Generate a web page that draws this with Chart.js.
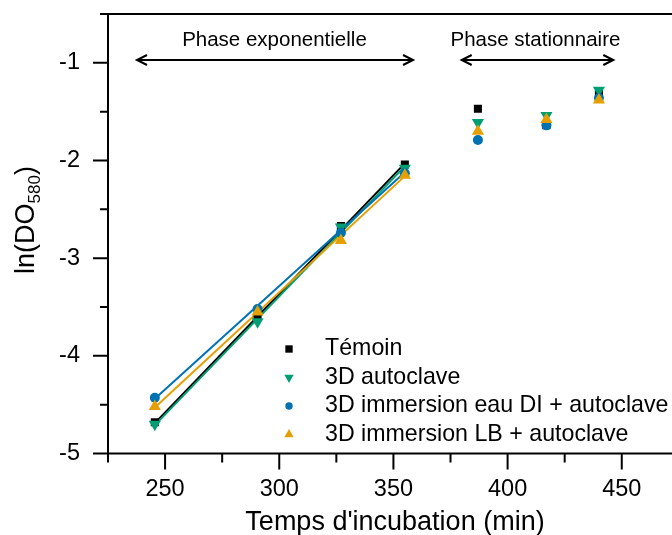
<!DOCTYPE html>
<html>
<head>
<meta charset="utf-8">
<script src="https://cdn.jsdelivr.net/npm/chart.js@4.4.1/dist/chart.umd.min.js"></script>
<style>
  html, body { margin: 0; padding: 0; background: #fff; }
  #wrap { width: 672px; height: 535px; }
</style>
</head>
<body>
<div id="wrap"><canvas id="grafico" width="672" height="535"></canvas></div>
<script>
// Temps d'incubation (min)
const temps = [245.5, 290.5, 327, 355, 387, 417, 440];

// ln(DO580) pour chaque condition
const temoin = [-4.68, -3.60, -2.67, -2.04, -1.47, -1.64, -1.32];
const autoclave = [-4.70, -3.65, -2.68, -2.08, -1.61, -1.54, -1.28];
const immersionEauDI = [-4.43, -3.52, -2.74, -2.13, -1.79, -1.64, -1.36];
const immersionLB = [-4.52, -3.55, -2.82, -2.15, -1.70, -1.58, -1.38];

// droites de régression sur la phase exponentielle (extrémités)
const tempsFit = [245.5, 355];
const fitTemoin = [-4.69, -2.03];
const fitAutoclave = [-4.71, -2.06];
const fitEauDI = [-4.44, -2.12];
const fitLB = [-4.53, -2.16];

const noms = ['Témoin', '3D autoclave', '3D immersion eau DI + autoclave', '3D immersion LB + autoclave'];
const couleurs = ['#000000', '#009E73', '#0072B2', '#E69F00'];

const police = "'Liberation Sans', Arial, sans-serif";

function pts(xs, ys) {
  return xs.map((x, i) => ({ x: x, y: ys[i] }));
}

// styles des marqueurs : carré, triangle bas, rond, triangle haut
const marqueurs = [
  { pointStyle: 'rect', radius: 5.7, rotation: 0 },
  { pointStyle: 'triangle', radius: 7, rotation: 180 },
  { pointStyle: 'circle', radius: 5, rotation: 0 },
  { pointStyle: 'triangle', radius: 7, rotation: 0 }
];
const marqueursLegende = [
  { pointStyle: 'rect', radius: 5.2, rotation: 0 },
  { pointStyle: 'triangle', radius: 5.4, rotation: 180 },
  { pointStyle: 'circle', radius: 3.7, rotation: 0 },
  { pointStyle: 'triangle', radius: 5.4, rotation: 0 }
];

const series = [temoin, autoclave, immersionEauDI, immersionLB];
const fits = [fitTemoin, fitAutoclave, fitEauDI, fitLB];

const datasets = [];
series.forEach((s, i) => {
  datasets.push({
    label: noms[i],
    data: pts(temps, s),
    showLine: false,
    pointStyle: marqueurs[i].pointStyle,
    pointRotation: marqueurs[i].rotation,
    pointRadius: marqueurs[i].radius,
    pointBackgroundColor: couleurs[i],
    pointBorderWidth: 0,
    order: 4 - i
  });
});
fits.forEach((f, i) => {
  datasets.push({
    label: 'fit ' + noms[i],
    data: pts(tempsFit, f),
    showLine: true,
    borderColor: couleurs[i],
    borderWidth: 2,
    pointRadius: 0,
    order: 8 - i
  });
});

// axes, graduations majeures et mineures
const axesPlugin = {
  id: 'axes',
  beforeDatasetsDraw(chart) {
    const { ctx, chartArea: a, scales } = chart;
    const x = scales.x, y = scales.y;
    ctx.save();
    ctx.strokeStyle = '#000';
    ctx.lineWidth = 2;
    ctx.beginPath();
    ctx.moveTo(a.left, a.top); ctx.lineTo(a.left, a.bottom);
    ctx.moveTo(a.left, a.bottom); ctx.lineTo(a.right, a.bottom);
    ctx.moveTo(a.left, a.top); ctx.lineTo(a.right, a.top);
    for (let v = 225; v <= x.max; v += 25) {
      const px = x.getPixelForValue(v);
      const len = v % 50 === 0 ? 16 : 9;
      ctx.moveTo(px, a.bottom); ctx.lineTo(px, a.bottom + len);
    }
    for (let v = -5; v <= -0.5; v += 0.5) {
      const py = y.getPixelForValue(v);
      const len = Number.isInteger(v) ? 15 : 8;
      ctx.moveTo(a.left, py); ctx.lineTo(a.left - len, py);
    }
    ctx.stroke();
    ctx.restore();
  }
};

// flèches, titres d'axes et légende
const textesPlugin = {
  id: 'textes',
  afterDraw(chart) {
    const { ctx, scales } = chart;
    const x = scales.x, y = scales.y;
    ctx.save();
    ctx.fillStyle = '#000';
    ctx.strokeStyle = '#000';

    // phases
    const phases = [
      { txt: 'Phase exponentielle', de: 237.7, a: 358.6, centre: 297.9 },
      { txt: 'Phase stationnaire', de: 379.9, a: 446.3, centre: 412.2 }
    ];
    ctx.font = '20.5px ' + police;
    ctx.textAlign = 'center';
    ctx.textBaseline = 'alphabetic';
    ctx.lineWidth = 2;
    const yf = y.getPixelForValue(-0.971);
    const yt = y.getPixelForValue(-0.828);
    phases.forEach(p => {
      const x1 = x.getPixelForValue(p.de), x2 = x.getPixelForValue(p.a);
      ctx.fillText(p.txt, x.getPixelForValue(p.centre), yt);
      ctx.beginPath();
      ctx.moveTo(x1, yf); ctx.lineTo(x2, yf);
      ctx.moveTo(x1 + 10, yf - 5); ctx.lineTo(x1, yf); ctx.lineTo(x1 + 10, yf + 5);
      ctx.moveTo(x2 - 10, yf - 5); ctx.lineTo(x2, yf); ctx.lineTo(x2 - 10, yf + 5);
      ctx.stroke();
    });

    // titre axe x
    ctx.font = '27px ' + police;
    ctx.fillText("Temps d'incubation (min)", 395, 530);

    // titre axe y avec indice
    ctx.save();
    ctx.translate(34, 220);
    ctx.rotate(-Math.PI / 2);
    ctx.textAlign = 'left';
    const fGrand = '27px ' + police, fPetit = '17px ' + police;
    ctx.font = fGrand;
    const w1 = ctx.measureText('ln(DO').width;
    const w3 = ctx.measureText(')').width;
    ctx.font = fPetit;
    const w2 = ctx.measureText('580').width;
    let cx = -(w1 + w2 + w3) / 2;
    ctx.font = fGrand; ctx.fillText('ln(DO', cx, 0); cx += w1;
    ctx.font = fPetit; ctx.fillText('580', cx, 6); cx += w2;
    ctx.font = fGrand; ctx.fillText(')', cx, 0);
    ctx.restore();

    // légende
    ctx.font = '23.2px ' + police;
    ctx.textAlign = 'left';
    noms.forEach((n, i) => {
      const base = 355 + i * 28.5;
      ctx.fillStyle = couleurs[i];
      Chart.helpers.drawPoint(ctx, {
        pointStyle: marqueursLegende[i].pointStyle,
        rotation: marqueursLegende[i].rotation,
        radius: marqueursLegende[i].radius,
        borderWidth: 0
      }, 289, base - 6);
      ctx.fillStyle = '#000';
      ctx.fillText(n, 325, base);
    });
    ctx.restore();
  }
};

new Chart(document.getElementById('grafico'), {
  type: 'scatter',
  data: { datasets: datasets },
  options: {
    responsive: false,
    animation: false,
    layout: { autoPadding: false, padding: { top: 14, right: 0, bottom: 0, left: 0 } },
    plugins: {
      legend: { display: false },
      tooltip: { enabled: false }
    },
    scales: {
      x: {
        type: 'linear',
        min: 225,
        max: 472,
        afterFit: s => { s.height = 81.5; s.paddingLeft = 0; s.paddingRight = 0; },
        grid: { display: false, drawTicks: false },
        border: { display: false },
        ticks: {
          stepSize: 50,
          includeBounds: false,
          padding: 22,
          color: '#000',
          font: { family: police, size: 23.5 }
        }
      },
      y: {
        type: 'linear',
        min: -5,
        max: -0.5,
        afterFit: s => { s.width = 108; s.paddingTop = 0; s.paddingBottom = 0; },
        grid: { display: false, drawTicks: false },
        border: { display: false },
        ticks: {
          stepSize: 1,
          includeBounds: false,
          padding: 28,
          color: '#000',
          font: { family: police, size: 23.5 }
        }
      }
    }
  },
  plugins: [axesPlugin, textesPlugin]
});
</script>
</body>
</html>
